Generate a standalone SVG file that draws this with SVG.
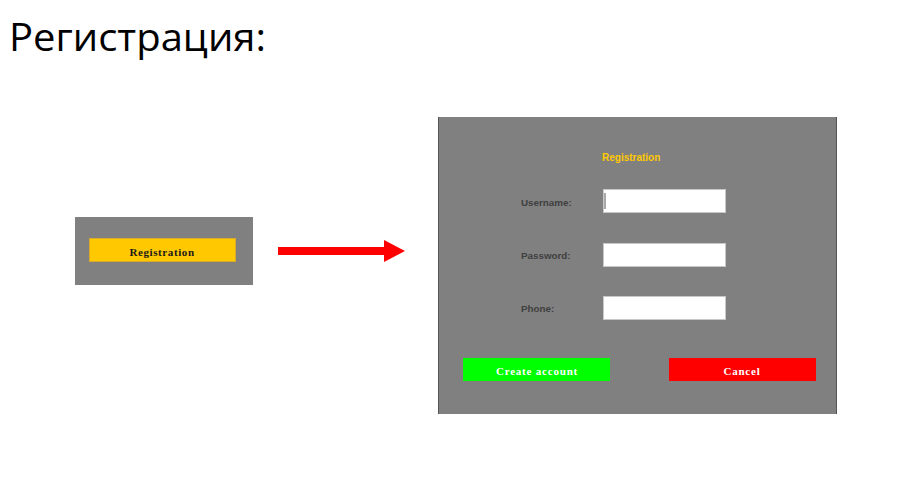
<svg xmlns="http://www.w3.org/2000/svg" width="916" height="492" viewBox="0 0 916 492">
<style>
.panel{fill:#808080}
.lbl{font-family:"Liberation Sans",Arial,sans-serif;font-weight:bold;font-size:9.8px;fill:#3f3f3f}
.field{fill:#ffffff;stroke:#c8c8c8;stroke-width:1}
.btn{font-family:"Liberation Serif","Times New Roman",serif;font-weight:bold;font-size:11px;text-anchor:middle}
</style>
<defs>
<marker id="ah" markerWidth="21" markerHeight="22" refX="0" refY="11" orient="auto" markerUnits="userSpaceOnUse">
<path d="M0,0 L21,11 L0,22 Z" fill="#ff0000"/>
</marker>
</defs>
<rect width="916" height="492" fill="#ffffff"/>
<text x="9" y="51" font-family="'Open Sans','Noto Sans',sans-serif" font-size="39" fill="#000000" textLength="257" lengthAdjust="spacingAndGlyphs">Регистрация:</text>

<g id="start-panel">
<rect class="panel" x="75" y="217" width="178" height="68"/>
<rect x="89.5" y="238.5" width="146" height="23" fill="#ffc800" stroke="#d9a92a" stroke-width="1"/>
<text class="btn" x="162" y="255.5" fill="#1a1a1a" letter-spacing="0.6">Registration</text>
</g>

<g id="connectors">
<line x1="278" y1="251" x2="384" y2="251" stroke="#ff0000" stroke-width="8" marker-end="url(#ah)"/>
</g>

<g id="registration-form">
<rect class="panel" x="438" y="117" width="399" height="297"/>
<line x1="438.5" y1="117" x2="438.5" y2="414" stroke="#555555" stroke-width="1"/>
<line x1="836.5" y1="117" x2="836.5" y2="414" stroke="#555555" stroke-width="1"/>
<text x="602" y="160.5" font-family="'Liberation Sans',Arial,sans-serif" font-weight="bold" font-size="10" fill="#ffc800">Registration</text>

<text class="lbl" x="521" y="205.5">Username:</text>
<rect class="field" x="603.5" y="189.5" width="122" height="23"/>
<line x1="605" y1="193" x2="605" y2="209" stroke="#555555" stroke-width="1"/>

<text class="lbl" x="521" y="258.5">Password:</text>
<rect class="field" x="603.5" y="243.5" width="122" height="23"/>

<text class="lbl" x="521" y="312">Phone:</text>
<rect class="field" x="603.5" y="296.5" width="122" height="23"/>

<rect x="463" y="358" width="147" height="23" fill="#00ff00"/>
<text class="btn" x="537" y="374.5" fill="#ffffff" letter-spacing="0.8">Create account</text>

<rect x="669" y="358" width="147" height="23" fill="#ff0000"/>
<text class="btn" x="742" y="374.5" fill="#ffffff" letter-spacing="0.8">Cancel</text>
</g>
</svg>
